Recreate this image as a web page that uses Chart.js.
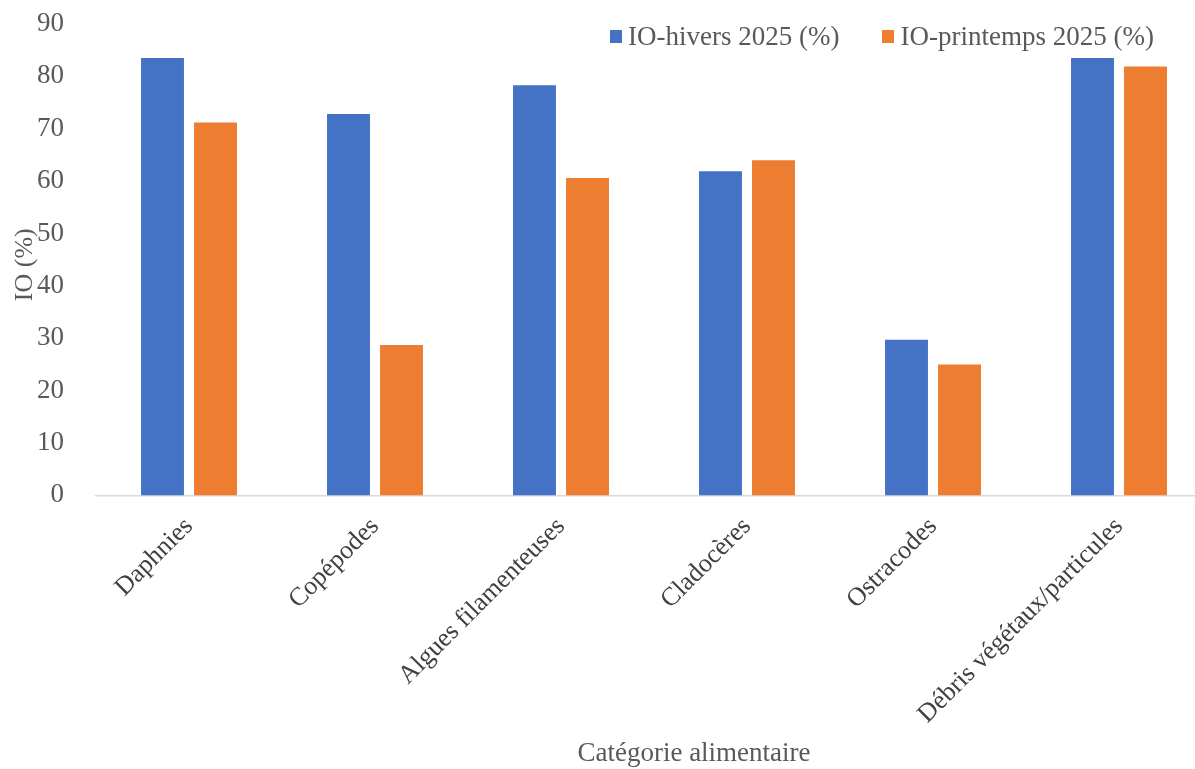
<!DOCTYPE html>
<html>
<head>
<meta charset="utf-8">
<script src="https://cdn.jsdelivr.net/npm/chart.js@4"></script>
<style>
  html, body { margin: 0; padding: 0; background: #fff; overflow: hidden; }
  #wrap { position: relative; width: 1212px; height: 769px; }
  #legend { position: absolute; top: 21px; left: 610px; display: flex; gap: 43px;
            font-family: "Liberation Serif", "Times New Roman", serif; font-size: 27px; color: #595959; }
  #legend span.item { display: flex; align-items: center; }
  #legend i { display: inline-block; width: 12px; height: 13px; margin-right: 6px; }
</style>
</head>
<body>
<div id="wrap"><canvas id="chart"></canvas><div id="legend"></div></div>
<script>
// Data
const categories = ['Daphnies', 'Copépodes', 'Algues filamenteuses', 'Cladocères', 'Ostracodes', 'Débris végétaux/particules'];
const hivers = [83.5, 72.8, 78.3, 61.9, 29.7, 83.5];
const printemps = [71.2, 28.7, 60.6, 64.0, 25.0, 81.9];
const yTicks = [0, 10, 20, 30, 40, 50, 60, 70, 80, 90];
const seriesNames = ['IO-hivers 2025 (%)', 'IO-printemps 2025 (%)'];
const seriesColors = ['#4472C4', '#ED7D31'];
const xTitle = 'Catégorie alimentaire';
const yTitle = 'IO (%)';

const serif = '"Liberation Serif", "Times New Roman", serif';
Chart.defaults.font.family = serif;
Chart.defaults.color = '#595959';

// axis titles drawn by hand (the built-in y title pushed the plot down)
const axisTitles = {
  id: 'axisTitles',
  afterDraw(chart) {
    const ctx = chart.ctx;
    const area = chart.chartArea;
    ctx.save();
    ctx.fillStyle = '#595959';
    ctx.textAlign = 'center';
    ctx.font = '27px ' + serif;
    ctx.textBaseline = 'alphabetic';
    ctx.fillText(xTitle, (area.left + area.right) / 2 + 40, chart.height - 8);
    ctx.font = '26px ' + serif;
    ctx.textBaseline = 'middle';
    ctx.translate(25, (area.top + area.bottom) / 2 + 5);
    ctx.rotate(-Math.PI / 2);
    ctx.fillText(yTitle, 0, 0);
    ctx.restore();
  }
};

const chart = new Chart(document.getElementById('chart'), {
  type: 'bar',
  data: {
    labels: categories,
    datasets: [
      { label: seriesNames[0], data: hivers, backgroundColor: seriesColors[0] },
      { label: seriesNames[1], data: printemps, backgroundColor: seriesColors[1] }
    ]
  },
  options: {
    responsive: true,
    maintainAspectRatio: false,
    animation: false,
    layout: { padding: { top: 24, left: 0, right: 0, bottom: 31 } },
    datasets: { bar: { categoryPercentage: 0.57, barPercentage: 0.81 } },
    plugins: {
      legend: { display: false },
      tooltip: { enabled: false }
    },
    scales: {
      x: {
        afterFit(scale) { scale.paddingTop = 0; },
        grid: { display: false },
        border: { display: true, color: '#d9d9d9', width: 1.5 },
        ticks: { minRotation: 45, maxRotation: 45, font: { size: 26 }, color: '#404040', padding: 8 }
      },
      y: {
        min: 0,
        max: 90,
        afterBuildTicks(scale) { scale.ticks = yTicks.map(v => ({ value: v })); },
        afterFit(scale) { scale.width = 96; scale.paddingTop = 0; },
        grid: { display: false },
        border: { display: false },
        ticks: { font: { size: 27 }, color: '#595959', padding: 24 }
      }
    }
  },
  plugins: [axisTitles]
});

// legend drawn over the plot area, like the reference
const legendEl = document.getElementById('legend');
chart.data.datasets.forEach(ds => {
  const item = document.createElement('span');
  item.className = 'item';
  const box = document.createElement('i');
  box.style.background = ds.backgroundColor;
  item.appendChild(box);
  item.appendChild(document.createTextNode(ds.label));
  legendEl.appendChild(item);
});
</script>
</body>
</html>
